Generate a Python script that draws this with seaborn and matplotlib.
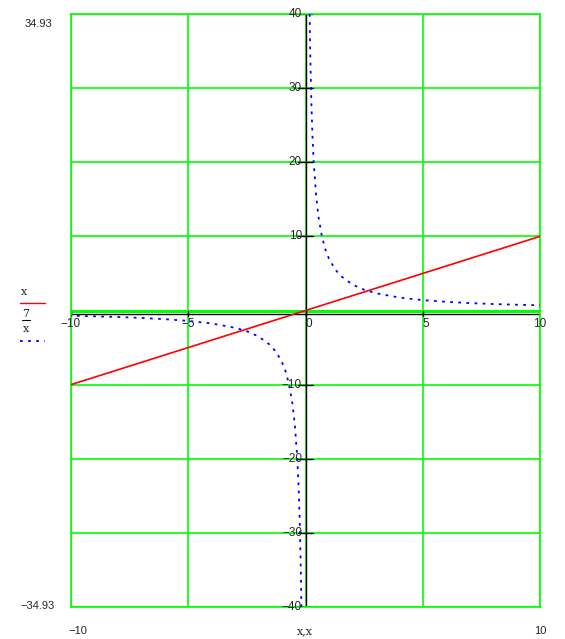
import matplotlib
matplotlib.use("Agg")
import matplotlib.pyplot as plt
import seaborn as sns
import pandas as pd

# dados
x_reta = [-10, -5, 0, 5, 10]
y_reta = [-10, -5, 0, 5, 10]

x_pos = [0.175, 0.2, 0.25, 0.3, 0.35, 0.45, 0.55, 0.7, 0.85, 1.0, 1.25, 1.5, 2.0, 2.5, 3.0, 4.0, 5.0, 6.0, 7.0, 8.0, 9.0, 10.0]
y_pos = [40.0, 35.0, 28.0, 23.3, 20.0, 15.6, 12.7, 10.0, 8.2, 7.0, 5.6, 4.67, 3.5, 2.8, 2.33, 1.75, 1.4, 1.17, 1.0, 0.875, 0.78, 0.7]
x_neg = [-v for v in x_pos]
y_neg = [-v for v in y_pos]

xticks = [-10, -5, 0, 5, 10]
yticks = [40, 30, 20, 10, -10, -20, -30, -40]

sns.set_style("white")
plt.rcParams['font.family'] = ['Liberation Sans', 'DejaVu Sans']

fig = plt.figure(figsize=(5.65, 6.39), dpi=100)
ax = fig.add_axes([71/565, 1 - 607/639, 469/565, 593/639])

verde = "#00ff00"
for xv in xticks:
    ax.axvline(xv, color=verde, lw=1.2, zorder=1)
for yv in yticks:
    ax.axhline(yv, color=verde, lw=1.2, zorder=1)
ax.axhline(0, color=verde, lw=2.2, zorder=1)
ax.axhline(-0.45, color="black", lw=1.0, zorder=2)
ax.axvline(0, color="black", lw=1.0, zorder=2)

sns.lineplot(x=x_reta, y=y_reta, ax=ax, color="red", lw=1.2, zorder=3)
df_pos = pd.DataFrame({"x": x_pos, "y": y_pos})
df_neg = pd.DataFrame({"x": x_neg, "y": y_neg})
sns.lineplot(data=df_pos, x="x", y="y", ax=ax, color="blue", lw=1.3,
             linestyle=(0, (1.5, 3)), sort=False, zorder=3)
sns.lineplot(data=df_neg, x="x", y="y", ax=ax, color="blue", lw=1.3,
             linestyle=(0, (1.5, 3)), sort=False, zorder=3)

ax.set_xlim(-10, 10)
ax.set_ylim(-40, 40)
ax.set_xticks([])
ax.set_yticks([])
ax.set_xlabel("")
ax.set_ylabel("")
for s in ax.spines.values():
    s.set_color(verde)
    s.set_linewidth(1.2)

# rótulos dos eixos junto à origem
for xv in xticks:
    lab = str(xv).replace("-", "\u2212")
    ax.text(xv, -1.0, lab, ha="left" if xv in (0, 5) else "center", va="top", fontsize=8.5, zorder=4)
    ax.plot([xv, xv], [0, -0.8], color="black", lw=1, zorder=2)
for yv in yticks:
    lab = str(yv).replace("-", "\u2212")
    ax.text(-0.15, yv, lab, ha="right", va="center", fontsize=8.5, zorder=4)
    ax.plot([-0.3, 0.3], [yv, yv], color="black", lw=1, zorder=2)

# limites e legenda no estilo Mathcad
fig.text(38/565, 1 - 24/639, "34.93", ha="center", va="center", fontsize=8)
fig.text(38/565, 1 - 606/639, "\u221234.93", ha="center", va="center", fontsize=8)
fig.text(78/565, 1 - 631/639, "\u221210", ha="center", va="center", fontsize=8)
fig.text(305/565, 1 - 631/639, "x,x", ha="center", va="center", fontsize=8, family="DejaVu Serif")
fig.text(540/565, 1 - 631/639, "10", ha="center", va="center", fontsize=8)

fig.text(24/565, 1 - 292/639, "x", ha="center", va="center", fontsize=8, family="DejaVu Serif")
fig.add_artist(plt.Line2D([20/565, 45/565], [1 - 303/639, 1 - 303/639], color="red", lw=1))
fig.text(26/565, 1 - 314/639, "7", ha="center", va="center", fontsize=8, family="DejaVu Serif")
fig.add_artist(plt.Line2D([22/565, 30/565], [1 - 320/639, 1 - 320/639], color="black", lw=0.8))
fig.text(26/565, 1 - 329/639, "x", ha="center", va="center", fontsize=8, family="DejaVu Serif")
fig.add_artist(plt.Line2D([20/565, 45/565], [1 - 341/639, 1 - 341/639], color="blue", lw=1.3,
                          linestyle=(0, (1.5, 3))))

fig.savefig("out.png", dpi=100)
